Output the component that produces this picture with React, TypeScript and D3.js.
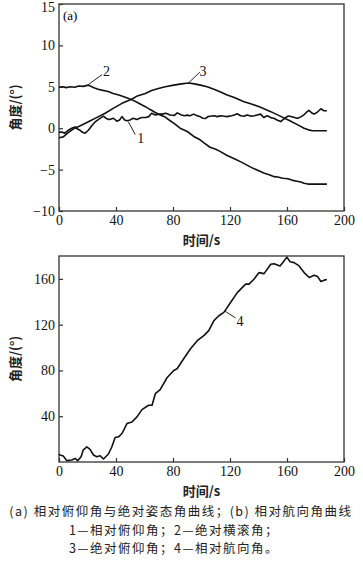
import React, { useEffect, useRef } from 'react';
import * as d3 from 'd3';

// 时间轴与刻度
const timeTicks = [0, 40, 80, 120, 160, 200];
const attitudeTicks = [-10, -5, 0, 5, 10, 15];
const headingTicks = [40, 80, 120, 160];

// 1 — 相对俯仰角 [t(s), 角度(°)]
const relPitch: [number, number][] = [
    [0, -0.5], [2, -0.45], [4, -0.6], [6.5, -0.25], [9, 0], [11.3, 0.16], [13, -0.1], [14.8, -0.25],
    [16.5, -0.5], [18.3, -0.6], [20.6, -0.25], [23, 0.3], [25.4, 0.77], [28, 1.1], [31.2, 1.45], [33, 1.2],
    [34.7, 1.05], [36.5, 1.1], [38.2, 1.2], [40.6, 0.85], [42.5, 1.0], [44.2, 1.4], [46, 1.0], [47.7, 0.9],
    [50, 1.0], [52, 1.2], [54.7, 1.05], [56.5, 1.2], [58.2, 1.3], [61, 1.3], [63, 1.4], [65, 1.8],
    [67.6, 1.6], [70, 1.7], [72.3, 1.7], [75, 1.8], [78, 1.6], [81, 1.55], [83, 1.85], [86, 1.6],
    [88, 1.5], [90, 1.58], [92, 1.5], [94.5, 1.7], [97, 1.5], [99.3, 1.37], [101, 1.2], [102.8, 1.17],
    [104.5, 1.4], [106, 1.45], [109, 1.5], [111, 1.4], [113.4, 1.5], [116, 1.45], [118, 1.4], [121, 1.5],
    [123, 1.6], [125, 1.75], [127.5, 1.5], [129.8, 1.45], [132, 1.6], [134.5, 1.46], [137, 1.5], [139, 1.6],
    [141.5, 1.7], [143.7, 1.3], [146, 1.5], [147, 1.45], [149, 1.25], [150.7, 1.2], [153, 1.0], [155.6, 0.8],
    [157, 1.0], [158.5, 1.2], [160.6, 1.46], [162, 1.45], [164, 1.35], [166, 1.25], [167.6, 1.2], [170, 1.4],
    [171.8, 1.6], [173.5, 1.9], [175.4, 2.15], [177, 1.9], [178.9, 1.7], [181, 1.9], [183.8, 2.35], [186, 2.1],
    [188, 2.1],
];

// 2 — 绝对横滚角
const absRoll: [number, number][] = [
    [0, 4.95], [3, 5.0], [5, 4.9], [8, 5.0], [11, 4.95], [14, 5.1], [17, 5.05], [20.6, 5.2],
    [23, 5.0], [25, 4.85], [27.5, 4.7], [30, 4.6], [33, 4.5], [35, 4.4], [38, 4.2], [42, 4.0],
    [46.5, 3.75], [51, 3.45], [55, 3.1], [60.6, 2.6], [64, 2.25], [67.6, 1.9], [71, 1.6], [74.6, 1.35],
    [78, 0.9], [81, 0.55], [85, 0.0], [90, -0.4], [94.6, -1.0], [99, -1.4], [102, -1.8], [106, -2.3],
    [110, -2.55], [113, -2.8], [118, -3.3], [123, -3.7], [128, -4.1], [134.5, -4.7], [139, -5.05], [143.7, -5.4],
    [148, -5.65], [151, -5.85], [153.5, -5.9], [157, -6.05], [160.6, -6.1], [164, -6.3], [167, -6.4], [169.7, -6.5],
    [172, -6.65], [174.6, -6.75], [180, -6.75], [188, -6.75],
];

// 3 — 绝对俯仰角
const absPitch: [number, number][] = [
    [0, -1.15], [3, -1.05], [6, -0.6], [8, -0.35], [11, 0.0], [15, 0.3], [20.6, 0.77], [26, 1.25],
    [32.4, 1.8], [38, 2.4], [44.2, 3.0], [51, 3.5], [55, 3.9], [60.6, 4.2], [65, 4.55], [69.7, 4.8],
    [74.6, 5.0], [80.5, 5.2], [86, 5.35], [91, 5.45], [95, 5.35], [99.3, 5.2], [104, 5.0], [108.7, 4.7],
    [113, 4.4], [118, 4.0], [123, 3.7], [129.8, 3.2], [134.5, 2.95], [141, 2.55], [148.6, 2.0], [156, 1.4],
    [162, 0.9], [167.6, 0.4], [172, 0.0], [175, -0.2], [178, -0.3], [188, -0.3],
];

// 4 — 相对航向角
const relHeading: [number, number][] = [
    [0, 7], [0.7, 6.1], [3, 5.2], [5.4, 1.2], [7, 1.5], [9, 1.7], [11.3, 3.2], [13.1, 1.2],
    [15.5, 4.6], [17, 10.4], [19.5, 13.3], [21.8, 11], [24.2, 6.1], [26.5, 4.6], [28.9, 5.5], [31.2, 2.6],
    [34.7, 7], [37.1, 13.3], [39.4, 21.4], [41.8, 22], [44.2, 24.9], [47.7, 33.6], [51.2, 35], [54.7, 39.4],
    [58.2, 45.8], [62.9, 49.6], [65.3, 49.6], [67.6, 59.7], [71, 63.2], [75.8, 73.6], [80.5, 80], [82.9, 81.5],
    [87.5, 90.2], [92.3, 98.9], [97, 106], [101.6, 110.4], [105.1, 114.8], [108.7, 123.5], [112.2, 127.8], [115.7, 130.7],
    [120.4, 139.4], [125.1, 148], [127.5, 151], [131, 155.4], [133.3, 155.4], [136.8, 159.7], [140.4, 165.5], [143.9, 164.6],
    [148.6, 172.8], [150.9, 173.3], [155.1, 171.3], [157.5, 175], [159.9, 179], [162.2, 175], [165, 174.2], [168.5, 171.3],
    [172, 165.5], [175.6, 161.2], [179, 163.2], [181.5, 162], [183.8, 157.7], [186.1, 158.9], [188, 159.5],
];

const captions = [
    '(a) 相对俯仰角与绝对姿态角曲线；(b) 相对航向角曲线',
    '1—相对俯仰角；2—绝对横滚角；',
    '3—绝对俯仰角；4—相对航向角。',
];

const serif = '"Liberation Serif", "Times New Roman", serif';
const cjk = '"Noto Sans CJK SC", sans-serif';

const App: React.FC = () => {
    const ref = useRef<SVGSVGElement>(null);
    const width = 363;
    const height = 575;

    useEffect(() => {
        draw();
        // eslint-disable-next-line
    }, []);

    const draw = () => {
        const svg = d3.select(ref.current);
        svg.selectAll('*').remove();

        const left = 59, right = 344;
        const x = d3.scaleLinear().domain([0, 200]).range([left, right]);

        const panel = (top: number, bottom: number, domain: [number, number], ticks: number[]) => {
            const y = d3.scaleLinear().domain(domain).range([bottom, top]);
            const g = svg.append('g');

            const yAxis = g.append('g')
                .attr('transform', `translate(${left},0)`)
                .call(d3.axisLeft(y).tickValues(ticks).tickSize(-4).tickPadding(4));
            const xAxis = g.append('g')
                .attr('transform', `translate(0,${bottom})`)
                .call(d3.axisBottom(x).tickValues(timeTicks).tickSize(-4).tickPadding(4));

            [yAxis, xAxis].forEach((a) => {
                a.select('.domain').remove();
                a.selectAll('line').attr('stroke', '#333').attr('stroke-width', 1.2);
                a.selectAll('text')
                    .attr('fill', '#111')
                    .style('font-family', serif)
                    .style('font-size', '14px');
            });
            // 顶端刻度标签稍下移，避免被画面边缘切掉
            yAxis.selectAll('.tick text')
                .filter((d: any) => y(d) - top < 6)
                .attr('dy', '0.55em');

            g.append('rect')
                .attr('x', left)
                .attr('y', top)
                .attr('width', right - left)
                .attr('height', bottom - top)
                .attr('fill', 'none')
                .attr('stroke', '#333')
                .attr('stroke-width', 1.3);

            g.append('text')
                .attr('transform', `translate(20,${(top + bottom) / 2}) rotate(-90)`)
                .attr('text-anchor', 'middle')
                .style('font-family', cjk)
                .style('font-size', '13px')
                .style('font-weight', 'bold')
                .attr('fill', '#222')
                .text('角度/(°)');

            g.append('text')
                .attr('x', (left + right) / 2)
                .attr('y', bottom + 34)
                .attr('text-anchor', 'middle')
                .style('font-family', cjk)
                .style('font-size', '13px')
                .style('font-weight', 'bold')
                .attr('fill', '#222')
                .text('时间/s');

            return { g, y };
        };

        const drawSeries = (g: any, y: d3.ScaleLinear<number, number>, data: [number, number][]) => {
            const line = d3.line<[number, number]>()
                .x((d) => x(d[0]))
                .y((d) => y(d[1]));
            g.append('path')
                .datum(data)
                .attr('d', line)
                .attr('fill', 'none')
                .attr('stroke', '#111')
                .attr('stroke-width', 1.6)
                .attr('stroke-linejoin', 'round');
        };

        const label = (g: any, px: number, py: number, dx: number, dy: number, txt: string, tx: number, ty: number) => {
            g.append('line')
                .attr('x1', px).attr('y1', py)
                .attr('x2', px + dx).attr('y2', py + dy)
                .attr('stroke', '#222').attr('stroke-width', 1);
            g.append('text')
                .attr('x', px + tx).attr('y', py + ty)
                .style('font-family', serif)
                .style('font-size', '14px')
                .attr('fill', '#111')
                .text(txt);
        };

        // (a)
        const a = panel(4, 211, [-10, 15], attitudeTicks);
        drawSeries(a.g, a.y, relPitch);
        drawSeries(a.g, a.y, absRoll);
        drawSeries(a.g, a.y, absPitch);
        a.g.append('text')
            .attr('x', 63).attr('y', 20)
            .style('font-family', serif).style('font-size', '13px')
            .text('(a)');
        label(a.g, x(19.7), a.y(5.15), 15, -11, '2', 16, -10);
        label(a.g, x(90.8), a.y(5.45), 11.5, -11, '3', 11, -7);
        label(a.g, x(48.6), a.y(0.8), 7, 13, '1', 9, 21);

        // (b)
        const b = panel(256, 462, [0, 180], headingTicks);
        drawSeries(b.g, b.y, relHeading);
        label(b.g, x(116.2), b.y(132), 11, 7, '4', 12, 15);

        svg.append('g')
            .selectAll('text')
            .data(captions)
            .enter()
            .append('text')
            .attr('x', (d, i) => (i === 0 ? 181 : 174))
            .attr('y', (d, i) => 516 + i * 18.5)
            .attr('text-anchor', 'middle')
            .style('font-family', cjk)
            .style('font-size', '12.5px')
            .style('letter-spacing', '1.5px')
            .attr('fill', '#222')
            .text((d) => d);
    };

    return (
        <svg ref={ref} width={width} height={height}
            style={{ position: 'absolute', left: 0, top: 0, background: '#fff' }}>
        </svg>
    );
};

export default App;
